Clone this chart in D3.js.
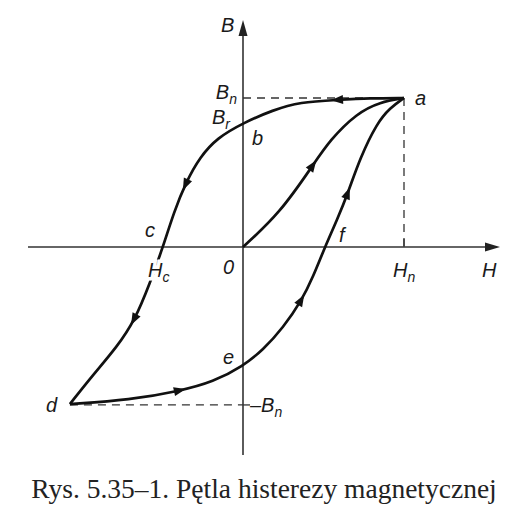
<!DOCTYPE html>
<html><head><meta charset="utf-8">
<script src="https://cdn.jsdelivr.net/npm/d3@7"></script>
<style>
body{margin:0;background:#fff;}
svg{display:block;}
.lbl{font-family:"Liberation Sans",Arial,sans-serif;font-style:italic;font-size:20px;fill:#1a1a1a;}
.cap{font-family:"Liberation Serif","Times New Roman",serif;font-size:27.5px;fill:#222;}
</style></head>
<body><svg id="c" width="518" height="524"></svg>
<script>
// Data (H in units of Hn, B in units of Bn)
const initialCurve = [[0,0],[0.23,0.228],[0.435,0.55],[0.54,0.718],[0.708,0.899],[0.851,0.973],[1,1]];
const descendingBranch = [[1,1],[0.789,0.999],[0.584,0.987],[0.354,0.973],[0.186,0.919],[0,0.832],[-0.161,0.732],[-0.267,0.604],[-0.354,0.436],[-0.429,0.235],[-0.497,0],[-0.578,-0.242],[-0.671,-0.49],[-0.783,-0.671],[-0.932,-0.859],[-1.075,-1.054]];
const ascendingBranch = [[-1.075,-1.054],[-0.702,-1.027],[-0.391,-0.966],[-0.186,-0.906],[0,-0.799],[0.124,-0.691],[0.248,-0.544],[0.366,-0.356],[0.435,-0.201],[0.509,0],[0.584,0.181],[0.652,0.362],[0.727,0.597],[0.832,0.832],[0.913,0.933],[1,1]];
const arrowMarks = [
  {branch:"initial", at:[0.435,0.55]},
  {branch:"descending", at:[0.584,0.987]},
  {branch:"descending", at:[-0.36,0.42]},
  {branch:"descending", at:[-0.671,-0.49]},
  {branch:"ascending", at:[-0.391,-0.966]},
  {branch:"ascending", at:[0.366,-0.356]},
  {branch:"ascending", at:[0.652,0.362]}
];
const Hn = 1, Bn = 1, Bneg = -1.06, HcVal = -0.497, BrVal = 0.832;
const pointLabels = [
  {t:"a", at:[1,1], dx:11, dy:7},
  {t:"b", at:[0,BrVal], dx:9, dy:22},
  {t:"c", at:[HcVal,0], dx:-18, dy:-10},
  {t:"d", at:[-1.075,-1.054], dx:-24, dy:8},
  {t:"e", at:[0,-0.799], dx:-20, dy:-2},
  {t:"f", at:[0.509,0], dx:14, dy:-5}
];
const caption = "Rys. 5.35–1. Pętla histerezy magnetycznej";

const svg = d3.select("#c");
const x = d3.scaleLinear().domain([0,1]).range([243,404]);
const y = d3.scaleLinear().domain([0,1]).range([247,98]);
const xMin = x.invert(28), xMax = x.invert(500);
const yMin = y.invert(455), yMax = y.invert(20);

// dashed guides
const dash = svg.append("g").attr("stroke","#333").attr("stroke-width",1.3).attr("stroke-dasharray","8,6").attr("fill","none");
dash.append("line").attr("x1",x(0)).attr("x2",x(Hn)).attr("y1",y(Bn)).attr("y2",y(Bn));
dash.append("line").attr("x1",x(Hn)).attr("x2",x(Hn)).attr("y1",y(Bn)).attr("y2",y(0));
dash.append("line").attr("x1",x(-1.075)).attr("x2",x(0)).attr("y1",y(Bneg)).attr("y2",y(Bneg));
svg.append("line").attr("x1",x(0)).attr("x2",x(0)+7).attr("y1",y(Bneg)).attr("y2",y(Bneg)).attr("stroke","#333").attr("stroke-width",1.3);

// axes
const ax = svg.append("g").attr("stroke","#333").attr("stroke-width",1.6);
ax.append("line").attr("x1",x(xMin)).attr("x2",x(xMax)-8).attr("y1",y(0)).attr("y2",y(0));
ax.append("line").attr("x1",x(0)).attr("x2",x(0)).attr("y1",y(yMin)).attr("y2",y(yMax)+8);
svg.append("path").attr("d",`M${x(xMax)},${y(0)} L${x(xMax)-15},${y(0)-4.5} L${x(xMax)-15},${y(0)+4.5}Z`).attr("fill","#222");
svg.append("path").attr("d",`M${x(0)},${y(yMax)} L${x(0)-4.5},${y(yMax)+16} L${x(0)+4.5},${y(yMax)+16}Z`).attr("fill","#222");
svg.append("line").attr("x1",x(Hn)).attr("x2",x(Hn)).attr("y1",y(0)-8).attr("y2",y(0)).attr("stroke","#333").attr("stroke-width",1.3);

// curves
const line = d3.line().x(d=>x(d[0])).y(d=>y(d[1])).curve(d3.curveBasis);
const branches = {initial:initialCurve, descending:descendingBranch, ascending:ascendingBranch};
const paths = {};
for (const k in branches) {
  paths[k] = svg.append("path").attr("d",line(branches[k])).attr("fill","none")
    .attr("stroke","#111").attr("stroke-width",2.7).attr("stroke-linejoin","round");
}
// arrowheads
arrowMarks.forEach(m=>{
  const p = paths[m.branch].node(), L = p.getTotalLength();
  const tx = x(m.at[0]), ty = y(m.at[1]);
  let best=0, bd=1e9;
  for (let l=0;l<=L;l+=0.5){const q=p.getPointAtLength(l);const dd=(q.x-tx)**2+(q.y-ty)**2;if(dd<bd){bd=dd;best=l;}}
  const a=p.getPointAtLength(Math.max(0,best-2)), b=p.getPointAtLength(Math.min(L,best+2));
  const ang=Math.atan2(b.y-a.y,b.x-a.x)*180/Math.PI;
  const c=p.getPointAtLength(best);
  svg.append("path").attr("d","M6,0 L-6,-4.5 L-6,4.5Z").attr("fill","#111")
    .attr("transform",`translate(${c.x},${c.y}) rotate(${ang})`);
});

// labels
function sub(xp, yp, main, s, anchor, halo){
  const t = svg.append("text").attr("class","lbl").attr("x",xp).attr("y",yp).attr("text-anchor",anchor||"start");
  if (halo) t.attr("stroke","#fff").attr("stroke-width",7).attr("paint-order","stroke");
  t.append("tspan").text(main);
  if (s) t.append("tspan").attr("font-size","14px").attr("dy",5).text(s);
  return t;
}
sub(x(0)-6, y(Bn)+1, "B","n","end");
sub(x(0)-13, y(BrVal)+1, "B","r","end");
sub(x(0)-22, y(yMax)+12, "B","");
sub(x(HcVal)-15, y(0)+30, "H","c","start",true);
sub(x(Hn)-11, y(0)+30, "H","n");
sub(x(xMax)-18, y(0)+30, "H","");
svg.append("text").attr("class","lbl").attr("x",x(0)-20).attr("y",y(0)+27).text("0");
const nb = svg.append("text").attr("class","lbl").attr("x",x(0)+7).attr("y",y(Bneg)+7);
nb.append("tspan").text("–B");
nb.append("tspan").attr("font-size","14px").attr("dy",5).text("n");
pointLabels.forEach(p=>{
  svg.append("text").attr("class","lbl").attr("x",x(p.at[0])+p.dx).attr("y",y(p.at[1])+p.dy).text(p.t);
});

// caption
svg.append("text").attr("class","cap").attr("x",264).attr("y",498).attr("text-anchor","middle").text(caption);
</script>
</body></html>
